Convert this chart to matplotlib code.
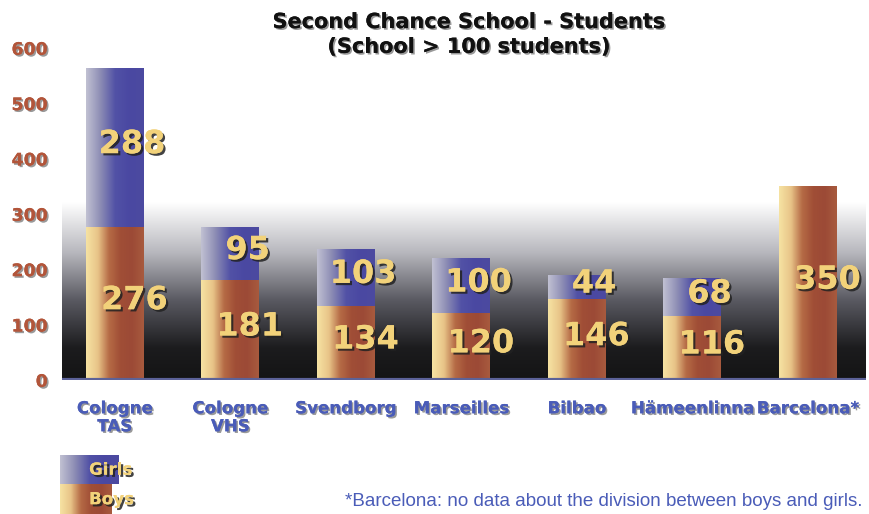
import matplotlib
matplotlib.use("Agg")
import matplotlib.pyplot as plt
import matplotlib.patheffects as pe
from matplotlib.colors import LinearSegmentedColormap
import numpy as np

schools = ["Cologne\nTAS", "Cologne\nVHS", "Svendborg", "Marseilles", "Bilbao", "Hämeenlinna", "Barcelona*"]
boys = [276, 181, 134, 120, 146, 116, 350]
girls = [288, 95, 103, 100, 44, 68, 0]
yticks = [0, 100, 200, 300, 400, 500, 600]

title = "Second Chance School - Students\n(School > 100 students)"
note = "*Barcelona: no data about the division between boys and girls."

boys_cmap = LinearSegmentedColormap.from_list(
    "boys", ["#f6e2a2", "#e8c488", "#b56a45", "#a04e36", "#9c4a36", "#a85a3e"])
girls_cmap = LinearSegmentedColormap.from_list(
    "girls", ["#c0c0d2", "#8c8cb4", "#5252a6", "#4a48a2", "#4c4aa0"])
bg_cmap = LinearSegmentedColormap.from_list(
    "bg", [(0.0, "#141414"), (0.18, "#1c1c1e"), (0.45, "#5a5a62"), (0.72, "#b8b8be"), (1.0, "#ffffff")])

num_color = "#f2d27a"
shadow = [pe.withSimplePatchShadow(offset=(1.6, -1.6), shadow_rgbFace="#222222", alpha=0.85), pe.Normal()]
soft_shadow = [pe.withSimplePatchShadow(offset=(1.2, -1.2), shadow_rgbFace="#555555", alpha=0.6), pe.Normal()]


def fill_gradient(ax, patch, cmap):
    x0, y0 = patch.get_x(), patch.get_y()
    w, h = patch.get_width(), patch.get_height()
    if h <= 0:
        return
    grad = np.linspace(0, 1, 64).reshape(1, -1)
    im = ax.imshow(grad, cmap=cmap, aspect="auto", extent=[x0, x0 + w, y0, y0 + h],
                   origin="lower", zorder=patch.get_zorder(), interpolation="bilinear")
    im.set_clip_path(patch)
    patch.set_facecolor("none")


fig = plt.figure(figsize=(8.69, 5.14), dpi=100)
ax = fig.add_axes([0.071, 0.261, 0.925, 0.646])

x = np.arange(len(schools))
ax.set_xlim(-0.46, len(schools) - 0.5)
ax.set_ylim(0, 600)

# dark band behind the bars
band = np.linspace(0, 1, 256).reshape(-1, 1)
ax.imshow(band, cmap=bg_cmap, aspect="auto", extent=[-0.46, len(schools) - 0.5, 0, 320],
          origin="lower", zorder=0, interpolation="bilinear")

width = 0.5
b1 = ax.bar(x, boys, width, zorder=2, linewidth=0)
b2 = ax.bar(x, girls, width, bottom=boys, zorder=2, linewidth=0)
for p in b1:
    fill_gradient(ax, p, boys_cmap)
for p in b2:
    fill_gradient(ax, p, girls_cmap)

for i in range(len(schools)):
    ax.text(x[i] + 0.17, boys[i] / 2 + 5, str(boys[i]), ha="center", va="center",
            fontsize=23, fontweight="bold", color=num_color, zorder=4, path_effects=shadow)
    if girls[i] > 0:
        ax.text(x[i] + 0.15, boys[i] + girls[i] / 2 + 5, str(girls[i]), ha="center", va="center",
                fontsize=23, fontweight="bold", color=num_color, zorder=4, path_effects=shadow)

ax.axhline(0, color="#5c6298", linewidth=3, zorder=3)

ax.set_yticks(yticks)
ax.set_yticklabels([str(v) for v in yticks], fontsize=12.5, fontweight="bold", color="#b2553a")
for t in ax.get_yticklabels():
    t.set_path_effects(soft_shadow)
ax.set_xticks(x)
ax.set_xticklabels(schools, fontsize=12, fontweight="bold", color="#4a5cb8", linespacing=1.0)
for t in ax.get_xticklabels():
    t.set_path_effects(soft_shadow)
ax.tick_params(axis="x", length=0, pad=14)
ax.tick_params(axis="y", length=0, pad=10)
for s in ax.spines.values():
    s.set_visible(False)

fig.text(0.54, 0.933, title, ha="center", va="center", fontsize=15, fontweight="bold",
         color="#111111", linespacing=1.3, path_effects=soft_shadow)

# legend swatch
lax = fig.add_axes([0.069, 0.0, 0.067, 0.115])
lax.set_xlim(0, 1)
lax.set_ylim(0, 2)
lb = lax.bar([0.44], [1], 0.88, zorder=1, linewidth=0)
lg = lax.bar([0.5], [1], 1, bottom=[1], zorder=1, linewidth=0)
fill_gradient(lax, lb[0], boys_cmap)
fill_gradient(lax, lg[0], girls_cmap)
lax.text(0.5, 1.5, "Girls", ha="left", va="center", fontsize=12, fontweight="bold",
         color=num_color, path_effects=shadow, zorder=3)
lax.text(0.5, 0.5, "Boys", ha="left", va="center", fontsize=12, fontweight="bold",
         color=num_color, path_effects=shadow, zorder=3)
lax.axis("off")

fig.text(0.992, 0.024, note, ha="right", va="center", fontsize=13.5, color="#4a5cb8",
         family="Liberation Sans")

fig.savefig("out.png", dpi=100)
